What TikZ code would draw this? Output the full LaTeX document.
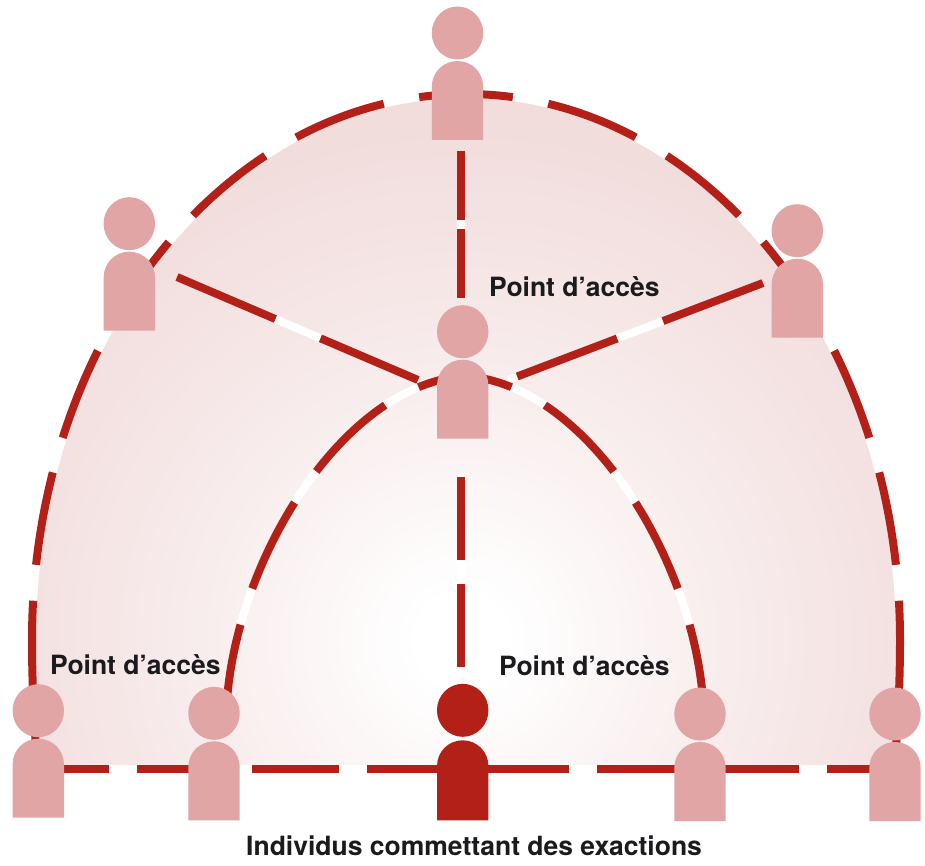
\documentclass[tikz,border=0pt]{standalone}
\usepackage{fontspec}
\setmainfont{TeX Gyre Heros}
\usetikzlibrary{shapes.geometric}
\definecolor{linered}{HTML}{B22017}
\definecolor{figpink}{HTML}{E0A5A4}
\definecolor{inktext}{HTML}{1B1A1E}
\definecolor{domeedge}{HTML}{F1D9D9}
\definecolor{domemid}{HTML}{F8ECEC}
\definecolor{domeside}{HTML}{F3DFDF}
\pgfdeclareradialshading{domeglow}{\pgfpointorigin}{color(0bp)=(white);color(2bp)=(white);color(12bp)=(domemid);color(21bp)=(domeside);color(26bp)=(domeedge);color(50bp)=(domeedge)}
\tikzset{
  x=1pt,y=-1pt,
  gapline/.style={draw=white,line width=8pt},
  redline/.style={draw=linered,line width=8pt},
  domedash/.style={redline,dash pattern=on 94pt off 36pt,dash phase=47pt},
  innerdash/.style={redline,dash pattern=on 96pt off 38pt,dash phase=48pt},
  footdash/.style={redline,dash pattern=on 87pt off 28pt,dash phase=16pt},
  spokedash/.style={redline,dash pattern=on 107pt off 49pt},
  topdash/.style={redline,dash pattern=on 69pt off 9pt},
  lowdash/.style={redline,dash pattern=on 83pt off 24pt},
  textlabel/.style={font=\fontsize{26.5}{30}\bfseries\selectfont,text=inktext,anchor=base west,inner sep=0pt},
  headshape/.style={ellipse,fill=#1,minimum width=51.5pt,minimum height=53pt,inner sep=0pt}
}
% name, x, y of the head centre, colour, body top offset, body bottom offset
\newcommand{\persona}[6]{%
  \node[headshape=#4] (#1) at (#2,#3) {};
  \fill[#4] (#2-25.7,#3+#6) -- (#2-25.7,#3+#5+26)
    .. controls (#2-25.7,#3+#5+11) and (#2-14,#3+#5) .. (#2,#3+#5)
    .. controls (#2+14,#3+#5) and (#2+25.7,#3+#5+11) .. (#2+25.7,#3+#5+26)
    -- (#2+25.7,#3+#6) -- cycle;
}
\newcommand{\domepaths}[3]{%
  \path[#1] (apex) .. controls (226.3,94) and (32,338.4) .. (westmid)
     .. controls (32,680) and (34,730) .. (westfoot);
  \path[#1] (apex) .. controls (705.7,94) and (900,338.4) .. (eastmid)
     .. controls (900,680) and (898,730) .. (eastfoot);
  \path[#2] (innertop) .. controls (345,384) and (238,555) .. (innerwest);
  \path[#2] (innertop) .. controls (585,384) and (692,555) .. (innereast);
  \path[#3] (footwest) -- (footeast);
}
\begin{document}
\begin{tikzpicture}
\useasboundingbox (0,0) rectangle (925,866);
% anchor points
\coordinate (apex) at (466,94);
\coordinate (westmid) at (32,640);
\coordinate (eastmid) at (900,640);
\coordinate (westfoot) at (38,769);
\coordinate (eastfoot) at (894,769);
\coordinate (footwest) at (38,769);
\coordinate (footeast) at (894,769);
\coordinate (innertop) at (465,376);
\coordinate (innerwest) at (227,700);
\coordinate (innereast) at (703,700);
\coordinate (spokeWa) at (177,277);
\coordinate (spokeWb) at (418,380);
\coordinate (spokeEa) at (763,283);
\coordinate (spokeEb) at (508,380);
\coordinate (vertTa) at (461,151);
\coordinate (vertTb) at (461,298);
\coordinate (vertBa) at (461,477);
\coordinate (vertBb) at (461,667);
% shaded dome
\begin{scope}
  \clip (38,765) .. controls (34,730) and (32,680) .. (westmid)
     .. controls (32,338.4) and (226.3,94) .. (apex)
     .. controls (705.7,94) and (900,338.4) .. (eastmid)
     .. controls (900,680) and (898,730) .. (894,765) -- cycle;
  \shade[shading=domeglow] (462,640) circle (565);
\end{scope}
% straight spokes
\draw[gapline] (spokeWa) -- (spokeWb);
\draw[spokedash] (spokeWa) -- (spokeWb);
\draw[gapline] (spokeEa) -- (spokeEb);
\draw[spokedash] (spokeEa) -- (spokeEb);
\draw[gapline] (vertTa) -- (vertTb);
\draw[topdash] (vertTa) -- (vertTb);
\draw[gapline] (vertBa) -- (vertBb);
\draw[lowdash] (vertBa) -- (vertBb);
% curved and bottom lines: white under red dashes
\domepaths{gapline}{gapline}{gapline}
\domepaths{domedash}{innerdash}{footdash}
% figures
\persona{ptop}{457.5}{33}{figpink}{28}{107}
\persona{pwest}{129.3}{223.7}{figpink}{28}{107}
\persona{peast}{797.3}{230.7}{figpink}{28}{107}
\persona{phub}{462.7}{331.7}{figpink}{28}{107}
\persona{pfarw}{38.3}{710.7}{figpink}{28}{107}
\persona{pnearw}{214}{713.3}{figpink}{28}{107}
\persona{pcore}{462.7}{710.3}{linered}{30}{110}
\persona{pneare}{700}{714}{figpink}{28}{107}
\persona{pfare}{895}{714}{figpink}{28}{107}
% labels
\node[textlabel] (lab1) at (489,296) {Point d’accès};
\node[textlabel] (lab2) at (50,674) {Point d’accès};
\node[textlabel] (lab3) at (499,675) {Point d’accès};
\node[textlabel] (lab4) at (246,855) {Individus commettant des exactions};
\end{tikzpicture}
\end{document}
